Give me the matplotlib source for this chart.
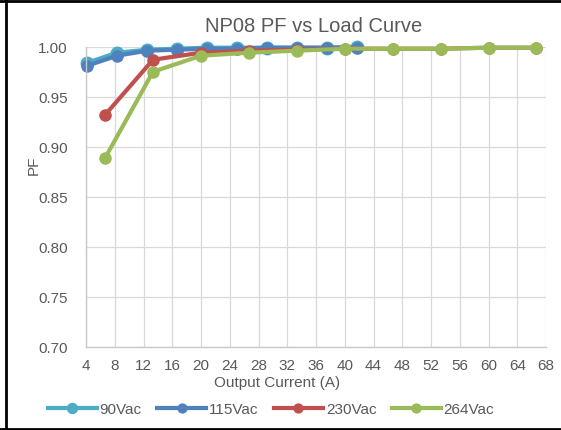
import matplotlib
matplotlib.use("Agg")
import matplotlib.pyplot as plt
from matplotlib.lines import Line2D

plt.rcParams["font.family"] = ["Liberation Sans", "DejaVu Sans"]

# load points, 90/115 Vac (A)
x_low = [4.17, 8.33, 12.5, 16.67, 20.83, 25.0, 29.17, 33.33, 37.5, 41.67]
# load points, 230/264 Vac (A)
x_high = [6.67, 13.33, 20.0, 26.67, 33.33, 40.0, 46.67, 53.33, 60.0, 66.67]

pf_90 = [0.984, 0.994, 0.997, 0.998, 0.999, 0.999, 0.999, 0.999, 0.999, 1.000]
pf_115 = [0.981, 0.991, 0.996, 0.997, 0.998, 0.998, 0.999, 0.999, 0.999, 0.999]
pf_230 = [0.932, 0.987, 0.994, 0.996, 0.997, 0.998, 0.998, 0.998, 0.999, 0.999]
pf_264 = [0.889, 0.975, 0.991, 0.994, 0.996, 0.998, 0.998, 0.998, 0.999, 0.999]

series = [
    ("90Vac", x_low, pf_90, "#4BACC6", 9),
    ("115Vac", x_low, pf_115, "#4F81BD", 8),
    ("230Vac", x_high, pf_230, "#C0504D", 8),
    ("264Vac", x_high, pf_264, "#9BBB59", 8),
]

txt = "#595959"
W, H = 561, 431

fig = plt.figure(figsize=(W / 100, H / 100), dpi=100)
ax = fig.add_axes([86 / W, 1 - 348 / H, (546 - 86) / W, (348 - 47.7) / H])

for name, xs, ys, c, ms in series:
    ax.plot(xs, ys, "-o", color=c, lw=3.0, ms=ms, label=name, clip_on=False)

ax.set_xlim(4, 68)
ax.set_ylim(0.70, 1.00)
ax.set_xticks(range(4, 69, 4))
ax.set_yticks([0.70, 0.75, 0.80, 0.85, 0.90, 0.95, 1.00])
ax.set_yticklabels([f"{v:.2f}" for v in ax.get_yticks()])
ax.grid(True, color="#d9d9d9", lw=0.9)
ax.set_axisbelow(True)
for s in ["top", "right"]:
    ax.spines[s].set_visible(False)
for s in ["left", "bottom"]:
    ax.spines[s].set_color("#c8c8c8")
    ax.spines[s].set_linewidth(1.0)
ax.tick_params(length=0, labelsize=11, labelcolor=txt)
ax.tick_params(axis="x", pad=8)
ax.tick_params(axis="y", pad=13)

fig.text(314 / W, 1 - 26.5 / H, "NP08 PF vs Load Curve", ha="center", va="center",
         fontsize=14.5, color=txt)
fig.text(277 / W, 1 - 383.5 / H, "Output Current (A)", ha="center", va="center",
         fontsize=11, color=txt)
fig.text(34 / W, 1 - 165 / H, "PF", ha="center", va="center", rotation=90,
         fontsize=11, color=txt)

fig.legend(loc="center", bbox_to_anchor=(271 / W, 1 - 410.5 / H), ncol=4, frameon=False,
           fontsize=11, labelcolor=txt, handlelength=3.2, handletextpad=0.2,
           columnspacing=1.0, markerscale=0.8)

# black frame on left, top, bottom
for xs, ys in [([5.5, 5.5], [0, H]), ([0, W], [H - 1.5, H - 1.5]), ([0, W], [1.5, 1.5])]:
    fig.add_artist(Line2D([x / W for x in xs], [y / H for y in ys], color="black", lw=2,
                          transform=fig.transFigure))

fig.savefig("out.png", dpi=100)
